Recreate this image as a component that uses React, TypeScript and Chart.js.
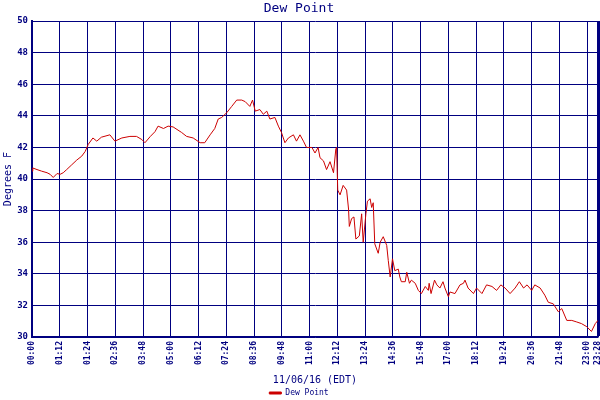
import { useEffect, useRef } from "react";
import { Chart, registerables } from "chart.js";

Chart.register(...registerables);

const TITLE = "Dew Point";
const X_TITLE = "11/06/16 (EDT)";
const Y_TITLE = "Degrees F";
const SERIES_LABEL = "Dew Point";

// Elapsed minutes since local midnight (the day has the DST fall-back hour)
const TICK_MINUTES = [0, 72, 144, 216, 288, 360, 432, 504, 576, 648, 720, 792, 864, 936, 1008, 1080, 1152, 1224, 1296, 1368, 1440, 1468];
const TICK_LABELS = ["00:00", "01:12", "01:24", "02:36", "03:48", "05:00", "06:12", "07:24", "08:36", "09:48", "11:00", "12:12", "13:24", "14:36", "15:48", "17:00", "18:12", "19:24", "20:36", "21:48", "23:00", "23:28"];

const Y_MIN = 30;
const Y_MAX = 50;
const Y_STEP = 2;
const X_MAX = 1468;

const TIME_MIN = [
  0, 2, 13, 25, 39, 47, 55, 65, 73, 81, 90, 103, 116, 129, 138, 146, 158, 168, 180, 202,
  215, 233, 254, 271, 285, 293, 307, 319, 327, 341, 353, 366, 388, 401, 418, 436, 448, 462, 474, 483,
  492, 505, 518, 531, 544, 553, 565, 572, 579, 591, 600, 609, 617, 630, 639, 647, 656, 665, 678, 686,
  695, 704, 712, 726, 734, 742, 747, 756, 764, 773, 782, 788, 790, 793, 799, 807, 816, 821, 823, 829,
  835, 840, 849, 855, 859, 866, 870, 877, 881, 885, 889, 898, 903, 911, 920, 924, 929, 935, 941, 950,
  954, 958, 968, 972, 979, 984, 994, 1002, 1010, 1020, 1028, 1030, 1035, 1044, 1050, 1058, 1066, 1071, 1080, 1084,
  1097, 1110, 1119, 1123, 1131, 1145, 1153, 1167, 1179, 1193, 1205, 1216, 1227, 1240, 1253, 1264, 1275, 1284, 1296, 1304,
  1318, 1330, 1339, 1352, 1365, 1374, 1387, 1400, 1413, 1425, 1439, 1451, 1461, 1468,
];
const DEW_POINT = [
  40.5, 40.7, 40.6, 40.5, 40.4, 40.3, 40.1, 40.35, 40.3, 40.4, 40.6, 40.9, 41.2, 41.45, 41.75, 42.2, 42.6, 42.4, 42.65, 42.8,
  42.4, 42.6, 42.7, 42.7, 42.5, 42.3, 42.7, 43.0, 43.35, 43.2, 43.35, 43.3, 42.95, 42.7, 42.6, 42.3, 42.3, 42.8, 43.2, 43.8,
  43.9, 44.2, 44.6, 45.0, 45.0, 44.9, 44.6, 45.0, 44.3, 44.4, 44.1, 44.3, 43.8, 43.9, 43.35, 42.95, 42.3, 42.6, 42.8, 42.4,
  42.8, 42.4, 42.0, 42.0, 41.65, 42.0, 41.35, 41.15, 40.6, 41.1, 40.4, 41.9, 42.0, 39.3, 39.0, 39.6, 39.3, 38.1, 37.0, 37.5,
  37.6, 36.2, 36.4, 37.8, 36.0, 37.8, 38.6, 38.75, 38.2, 38.5, 35.9, 35.3, 36.0, 36.35, 35.8, 34.85, 33.8, 34.95, 34.2, 34.3,
  33.8, 33.5, 33.5, 34.1, 33.4, 33.6, 33.4, 32.95, 32.75, 33.2, 32.95, 33.4, 32.75, 33.6, 33.3, 33.1, 33.5, 33.1, 32.55, 32.85,
  32.75, 33.3, 33.4, 33.6, 33.1, 32.75, 33.1, 32.75, 33.3, 33.2, 32.95, 33.3, 33.1, 32.75, 33.1, 33.5, 33.1, 33.3, 32.95, 33.3,
  33.1, 32.65, 32.2, 32.1, 31.6, 31.8, 31.05, 31.05, 30.95, 30.85, 30.65, 30.35, 30.85, 31.05,
];

const NAVY = "#000080";
const RED = "#cc0000";
const MONO = "'DejaVu Sans Mono', monospace";

export default function App() {
  const canvasRef = useRef<HTMLCanvasElement | null>(null);

  useEffect(() => {
    document.body.style.margin = "0";
    const canvas = canvasRef.current;
    if (!canvas) return;
    const points = TIME_MIN.map((t, i) => ({ x: t, y: DEW_POINT[i] }));
    const lastTick = TICK_MINUTES.length - 1;
    const chart = new Chart(canvas, {
      type: "line",
      data: {
        datasets: [
          {
            label: SERIES_LABEL,
            data: points,
            borderColor: RED,
            backgroundColor: RED,
            borderWidth: 1,
            pointRadius: 0,
            tension: 0,
            fill: false,
          },
        ],
      },
      options: {
        animation: false,
        responsive: false,
        maintainAspectRatio: false,
        layout: { padding: { left: 0, right: 2, top: 0, bottom: 0 } },
        plugins: {
          title: {
            display: true,
            text: TITLE,
            color: NAVY,
            font: { family: MONO, size: 13, weight: "normal" },
            padding: { top: 1, bottom: 4.5 },
          },
          legend: {
            display: true,
            position: "bottom",
            maxHeight: 13,
            labels: {
              color: NAVY,
              font: { family: MONO, size: 8 },
              boxWidth: 12,
              boxHeight: 2,
              padding: 2,
            },
          },
          tooltip: { enabled: false },
        },
        scales: {
          x: {
            type: "linear",
            min: 0,
            max: X_MAX,
            afterBuildTicks: (scale: any) => {
              scale.ticks = TICK_MINUTES.map((v) => ({ value: v }));
            },
            afterFit: (scale: any) => {
              scale.height = 50;
              scale.paddingLeft = 0;
              scale.paddingRight = 0;
            },
            ticks: {
              autoSkip: false,
              maxRotation: 90,
              minRotation: 90,
              padding: 4,
              color: NAVY,
              font: { family: MONO, size: 8, weight: "bold" },
              callback: (_v: any, i: number) => TICK_LABELS[i],
            },
            grid: {
              color: NAVY,
              lineWidth: (ctx: any) => (ctx.index === lastTick ? 3 : 1),
              drawTicks: false,
            },
            border: { color: NAVY, width: 1.5 },
            title: {
              display: true,
              text: X_TITLE,
              color: NAVY,
              font: { family: MONO, size: 10 },
              padding: { top: 0, bottom: 1 },
            },
          },
          y: {
            min: Y_MIN,
            max: Y_MAX,
            afterFit: (scale: any) => {
              scale.width = 32;
              scale.paddingTop = 0;
              scale.paddingBottom = 0;
            },
            ticks: {
              stepSize: Y_STEP,
              padding: 4,
              color: NAVY,
              font: { family: MONO, size: 9, weight: "bold" },
            },
            grid: { color: NAVY, lineWidth: 1, drawTicks: false },
            border: { color: NAVY, width: 2 },
            title: {
              display: true,
              text: Y_TITLE,
              color: NAVY,
              font: { family: MONO, size: 10 },
              padding: { top: 2, bottom: 0 },
            },
          },
        },
      },
    });
    return () => chart.destroy();
  }, []);

  return <canvas ref={canvasRef} width={600} height={400} style={{ display: "block" }} />;
}
